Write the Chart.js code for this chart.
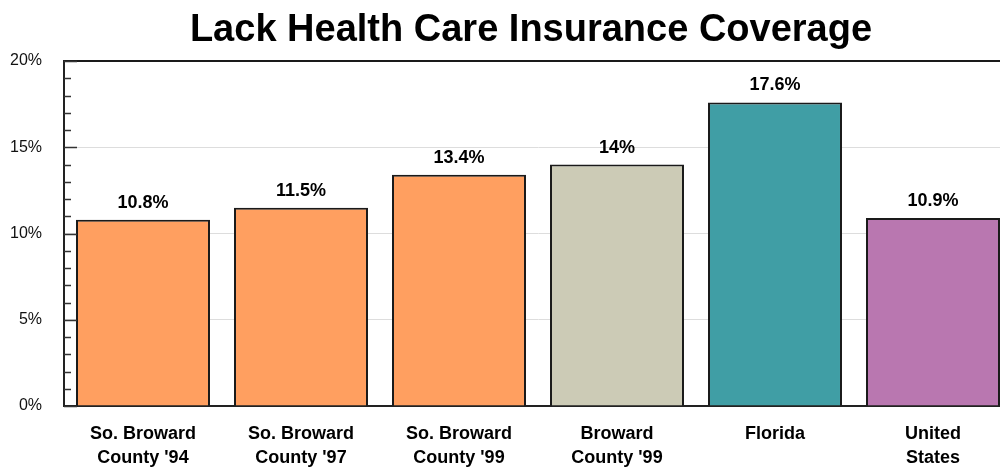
<!DOCTYPE html>
<html>
<head>
<meta charset="utf-8">
<script src="https://cdn.jsdelivr.net/npm/chart.js@4/dist/chart.umd.min.js"></script>
<style>
  html, body { margin: 0; padding: 0; overflow: hidden; background: #fff; }
  #wrap { width: 1014px; height: 468px; }
</style>
</head>
<body>
<div id="wrap"><canvas id="insChart"></canvas></div>
<script>
const ctx = document.getElementById("insChart").getContext("2d");

const TITLE = "Lack Health Care Insurance Coverage";

const CATEGORIES = [
  ["So. Broward", "County '94"],
  ["So. Broward", "County '97"],
  ["So. Broward", "County '99"],
  ["Broward", "County '99"],
  ["Florida"],
  ["United", "States"],
];

const VALUES = [10.8, 11.5, 13.4, 14, 17.6, 10.9];

const BAR_COLORS = ["#ff9f60", "#ff9f60", "#ff9f60", "#cccbb6", "#409ea5", "#b977b0"];

const Y_TICKS = [0, 5, 10, 15, 20];

const FONT = "'Liberation Sans', Arial, sans-serif";

// title centred over the plot, as in the original
const titlePlugin = {
  id: "titleText",
  afterDraw(chart) {
    const c = chart.ctx;
    c.save();
    c.font = "bold 38px " + FONT;
    c.fillStyle = "#000";
    c.textAlign = "center";
    c.textBaseline = "alphabetic";
    c.fillText(TITLE, 531, 41);
    c.restore();
  },
};

// value labels above the bars
const valueLabels = {
  id: "valueLabels",
  afterDatasetsDraw(chart) {
    const c = chart.ctx;
    const meta = chart.getDatasetMeta(0);
    c.save();
    c.font = "bold 18px " + FONT;
    c.fillStyle = "#000";
    c.textAlign = "center";
    c.textBaseline = "alphabetic";
    meta.data.forEach((bar, i) => {
      const v = VALUES[i];
      const txt = (Number.isInteger(v) ? v : v.toFixed(1)) + "%";
      c.fillText(txt, bar.x, bar.y - 12);
    });
    c.restore();
  },
};

// small tick marks pointing into the plot
const innerTicks = {
  id: "innerTicks",
  afterDraw(chart) {
    const c = chart.ctx;
    const y = chart.scales.y;
    c.save();
    c.strokeStyle = "#333";
    c.lineWidth = 1.5;
    for (let v = 0; v <= 20; v++) {
      const py = Math.round(y.getPixelForValue(v)) + 0.5;
      const len = v % 5 === 0 ? 13 : 7;
      c.beginPath();
      c.moveTo(y.right, py);
      c.lineTo(y.right + len, py);
      c.stroke();
    }
    c.restore();
  },
};

const data = {
  labels: CATEGORIES,
  datasets: [
    {
      data: VALUES,
      backgroundColor: BAR_COLORS,
      borderColor: "#1a1a1a",
      borderWidth: 2,
      borderSkipped: "start",
      barPercentage: 0.848,
      categoryPercentage: 1,
    },
  ],
};

const config = {
  type: "bar",
  data: data,
  plugins: [titlePlugin, valueLabels, innerTicks],
  options: {
    responsive: true,
    maintainAspectRatio: false,
    animation: false,
    layout: {
      padding: { top: 61, right: 2, left: 0, bottom: 0 },
    },
    plugins: {
      legend: { display: false },
      title: { display: false },
      tooltip: { enabled: false },
    },
    scales: {
      x: {
        grid: { display: false, drawTicks: false },
        border: { display: true, color: "#222", width: 2 },
        ticks: {
          color: "#000",
          font: { family: FONT, size: 18, weight: "bold", lineHeight: 1.35 },
          padding: 16,
          maxRotation: 0,
          autoSkip: false,
        },
        afterFit: (scale) => {
          scale.height = 62;
        },
      },
      y: {
        min: 0,
        max: 20,
        afterFit: (scale) => {
          scale.width = 64;
        },
        afterBuildTicks: (scale) => {
          const t = [];
          for (let v = 0; v <= 20; v++) t.push({ value: v });
          scale.ticks = t;
        },
        ticks: {
          autoSkip: false,
          padding: 22,
          color: "#111",
          font: { family: FONT, size: 16 },
          callback: (v) => (Y_TICKS.includes(v) ? v + "%" : ""),
        },
        grid: {
          drawTicks: false,
          color: (c) => {
            const v = c.tick.value;
            if (v === 20) return "#1a1a1a";
            if (v % 5 === 0 && v > 0) return "#dddddd";
            return "rgba(0,0,0,0)";
          },
          lineWidth: (c) => (c.tick.value === 20 ? 2 : 1),
        },
        border: { display: true, color: "#222", width: 2 },
      },
    },
  },
};

const insChart = new Chart(ctx, config);
</script>
</body>
</html>
